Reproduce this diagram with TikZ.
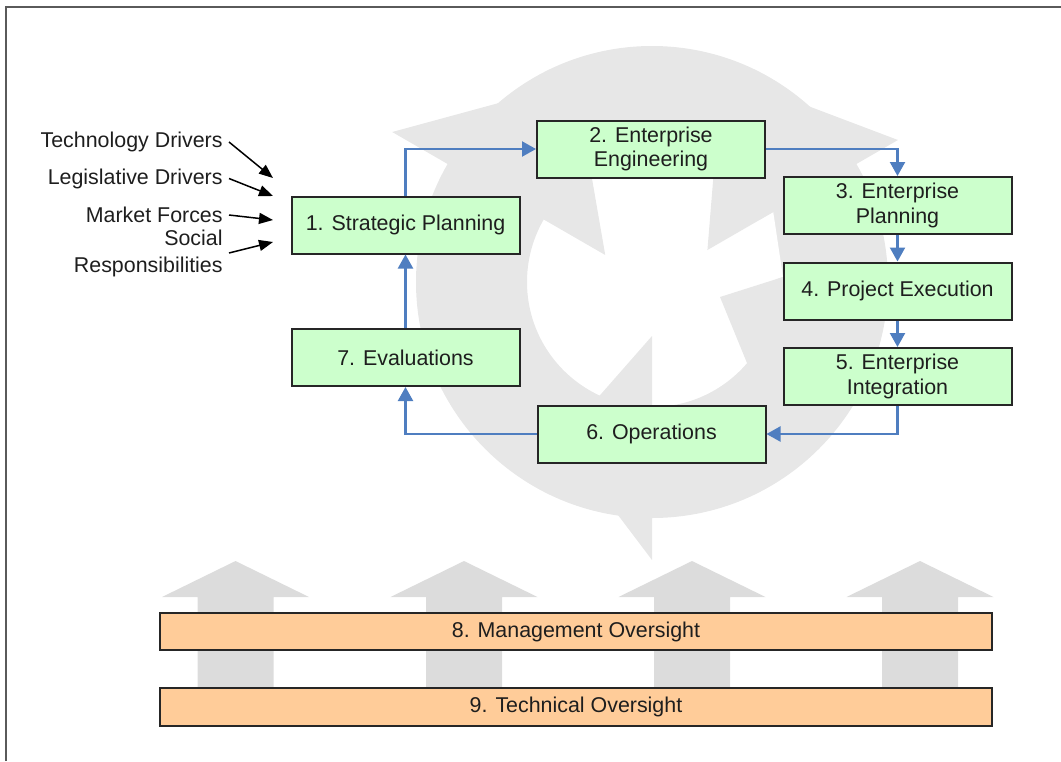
\documentclass[tikz,border=0pt]{standalone}
\usepackage{fontspec}
\setmainfont{Liberation Sans}
\usetikzlibrary{arrows.meta}

\definecolor{stagegreen}{HTML}{CCFFCC}
\definecolor{oversightorange}{HTML}{FFCC99}
\definecolor{flowblue}{HTML}{4F7EC0}
\definecolor{ringgray}{HTML}{E7E7E7}
\definecolor{pillargray}{HTML}{DCDCDC}
\definecolor{framegray}{HTML}{5A5A5A}
\definecolor{inkgray}{HTML}{1E1E1E}

\begin{document}
\begin{tikzpicture}[x=0.5pt, y=-0.5pt,
    every node/.style={text=inkgray, font=\fontsize{10.7}{12.3}\selectfont},
    stage/.style={draw=black!85, line width=1pt, fill=stagegreen,
        minimum width=114pt, minimum height=28.5pt, inner sep=0pt, align=center},
    oversight/.style={draw=black!85, line width=1pt, fill=oversightorange,
        minimum width=416pt, minimum height=18.7pt, inner sep=0pt},
    driver/.style={anchor=east, inner sep=3pt, align=right},
    flow/.style={draw=flowblue, line width=1.1pt, -{Triangle[length=7pt,width=7.5pt]}},
    push/.style={line width=0.75pt, -{Triangle[length=7pt,width=5.5pt]}}]
    \useasboundingbox (0,0) rectangle (1061,761);

    % Frame
    \draw[framegray, line width=1pt] (6,761) -- (6,7) -- (1061,7);

    % Recycling ring behind the cycle
    \begin{scope}[shift={(652,282)}]
        \fill[ringgray, even odd rule] (0,0) circle[radius=118pt] (0,0) circle[radius=62.5pt];
        \fill[white] (30:32pt) -- (30:70pt) -- (131,-5) -- (68,15) -- cycle;
        \fill[ringgray] (270:27pt) -- (270:139pt) -- (240:91pt) -- cycle;
        \fill[ringgray] (150:27pt) -- (150:150pt) -- (111:107pt) -- cycle;
        \fill[ringgray] (30:32pt) -- (30:142pt) -- (71.5:110pt) -- cycle;
        \fill[ringgray] (68,15) -- (95,81) -- (128,128) -- (150,0) -- (131,-5) -- cycle;
    \end{scope}

    % Oversight pillars
    \foreach \cx in {235.5,464,692,920} {
        \fill[pillargray] ({\cx-38},690) -- ({\cx-38},597) -- ({\cx-73.5},597)
            -- (\cx,561) -- ({\cx+73.5},597) -- ({\cx+38},597) -- ({\cx+38},690) -- cycle;
    }

    % Drivers
    \node[driver] (tech) at (229,142) {Technology Drivers};
    \node[driver] (legis) at (229,178.5) {Legislative Drivers};
    \node[driver] (market) at (229,215) {Market Forces};
    \node[driver] (social) at (229,253) {Social\\[1.2pt]Responsibilities};
    \coordinate (techend) at (273,178);
    \coordinate (legisend) at (273,196);
    \coordinate (marketend) at (273,220);
    \coordinate (socialend) at (273,242);
    \foreach \src in {tech,legis,market,social} {
        \draw[push] (\src.east) -- (\src end);
    }

    % Lifecycle stages
    \node[stage] (plan) at (405.5,225) {1. Strategic Planning};
    \node[stage] (eng) at (651,149) {2. Enterprise\\Engineering};
    \node[stage] (eplan) at (897.5,205.5) {3. Enterprise\\Planning};
    \node[stage] (exec) at (897.5,291) {4. Project Execution};
    \node[stage] (integ) at (897.5,376.5) {5. Enterprise\\Integration};
    \node[stage] (ops) at (651.5,434) {6. Operations};
    \node[stage] (eval) at (405.5,357.5) {7. Evaluations};

    % Cycle flow
    \draw[flow] (plan.north) |- (eng.west);
    \draw[flow] (eng.east) -| (eplan.north);
    \draw[flow] (eplan.south) -- (exec.north);
    \draw[flow] (exec.south) -- (integ.north);
    \draw[flow] (integ.south) |- (ops.east);
    \draw[flow] (ops.west) -| (eval.south);
    \draw[flow] (eval.north) -- (plan.south);

    % Oversight
    \node[oversight] (mgmt) at (576,631.5) {8. Management Oversight};
    \node[oversight] (techover) at (576,707) {9. Technical Oversight};
\end{tikzpicture}
\end{document}
